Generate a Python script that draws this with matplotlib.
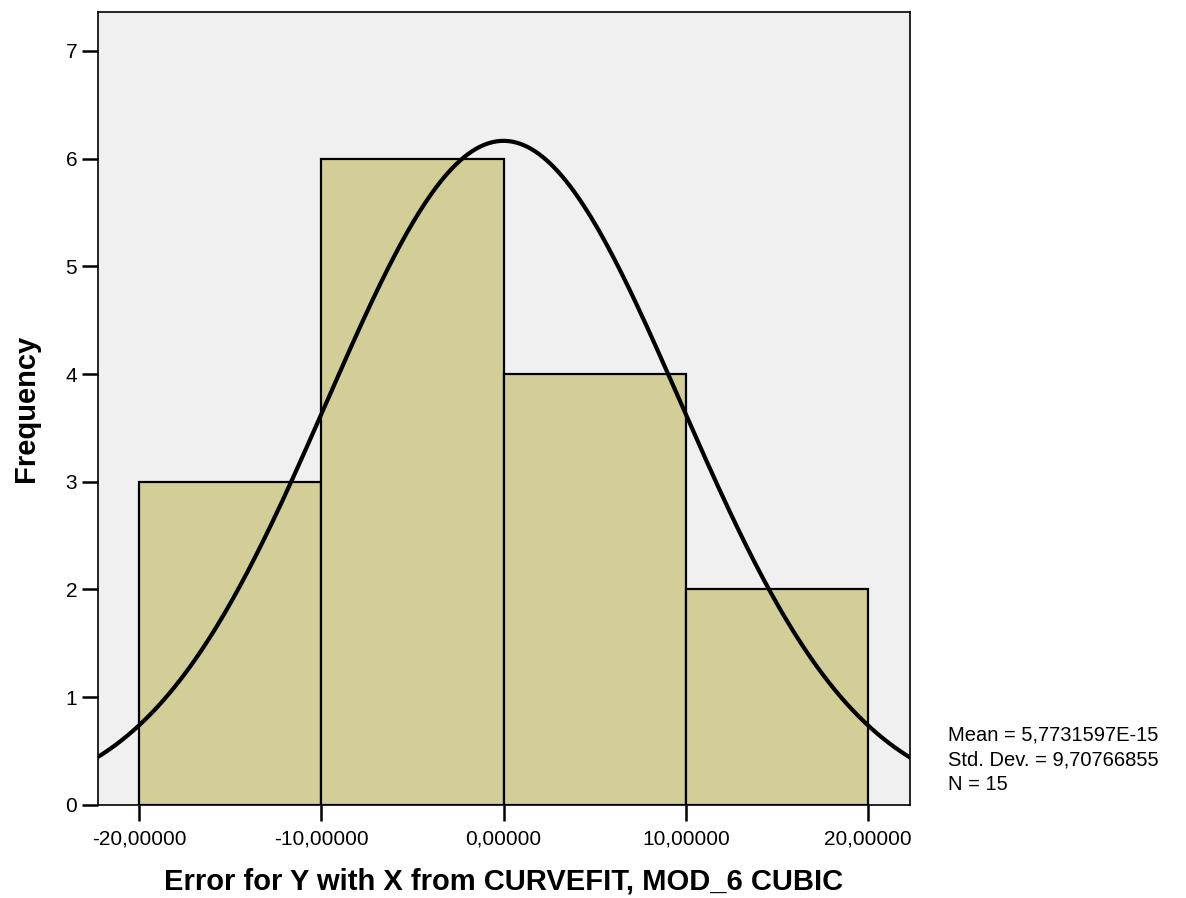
import numpy as np
import matplotlib.pyplot as plt

plt.rcParams['font.family'] = ['Liberation Sans', 'DejaVu Sans']

# histogram data (SPSS output)
bin_edges = [-20, -10, 0, 10, 20]
counts = [3, 6, 4, 2]
mean = 5.7731597e-15
std = 9.70766855
n = 15
x_ticks = [-20, -10, 0, 10, 20]
x_labels = ['-20,00000', '-10,00000', '0,00000', '10,00000', '20,00000']

fig = plt.figure(figsize=(11.86, 8.98), dpi=100)
ax = fig.add_axes([0.0826, 0.1036, 0.6847, 0.883])
ax.set_facecolor('#f0f0f0')

widths = np.diff(bin_edges)
ax.bar(bin_edges[:-1], counts, width=widths, align='edge',
       color='#d3ce97', edgecolor='black', linewidth=1.6, zorder=2)

# normal curve scaled to counts
bw = widths[0]
xs = np.linspace(-22.3, 22.3, 400)
ys = n * bw / (std * np.sqrt(2 * np.pi)) * np.exp(-0.5 * ((xs - mean) / std) ** 2)
ax.plot(xs, ys, color='black', linewidth=3, zorder=3)

ax.set_xlim(-22.25, 22.3)
ax.set_ylim(0, 7.36)
ax.set_xticks(x_ticks)
ax.set_xticklabels(x_labels)
ax.set_yticks(range(0, 8))
ax.tick_params(direction='out', length=11.5, width=1.8, labelsize=15)
ax.tick_params(axis='x', pad=6)
ax.tick_params(axis='y', pad=3.5)
for s in ax.spines.values():
    s.set_linewidth(1.2)

ax.set_xlabel('Error for Y with X from CURVEFIT, MOD_6 CUBIC',
              fontsize=21, fontweight='bold', labelpad=14)
ax.set_ylabel('Frequency', fontsize=21, fontweight='bold', labelpad=18)

fig.text(0.799, 0.192, 'Mean = 5,7731597E-15\nStd. Dev. = 9,70766855\nN = 15',
         fontsize=14.5, va='top', ha='left', linespacing=1.38)

fig.savefig('out.png', dpi=100)
